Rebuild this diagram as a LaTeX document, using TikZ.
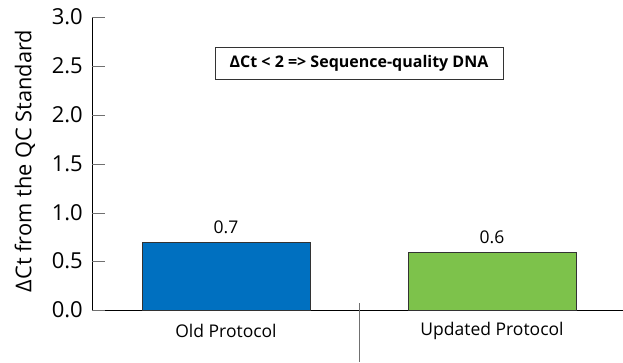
\documentclass[tikz,border=0pt]{standalone}
\usepackage{fontspec}
\setmainfont{Open Sans}
\definecolor{barblue}{HTML}{0070C0}
\definecolor{bargreen}{HTML}{7DC24B}
\definecolor{tickgray}{HTML}{707070}
\begin{document}
\begin{tikzpicture}[x=1pt,y=-1pt,
  ticklab/.style={anchor=east,font=\fontsize{22}{22}\selectfont,inner sep=0pt},
  catlab/.style={font=\fontsize{17.5}{17.5}\selectfont,inner sep=0pt},
  vallab/.style={font=\fontsize{17.5}{17.5}\selectfont,inner sep=0pt},
  bar/.style={draw=black!80,line width=0.8pt},
  tickline/.style={draw=tickgray,line width=0.9pt}]
\useasboundingbox (0,0) rectangle (623,362);
% axes
\coordinate (ytop) at (92,17);
\coordinate (orig) at (92,310);
\coordinate (xend) at (623,310);
\draw[line width=0.9pt] (ytop) -- (orig) -- (xend);
% ticks and labels
\foreach \v/\y [count=\i] in {3.0/17,2.5/66,2.0/115,1.5/164,1.0/213,0.5/261,0.0/310}{
  \coordinate (t\i a) at (92,\y);
  \coordinate (t\i b) at (105,\y);
  \draw[tickline] (t\i a) -- (t\i b);
  \node[ticklab] (tl\i) at (83,\y) {\v};
}
% separator
\coordinate (sepa) at (359,303);
\coordinate (sepb) at (359,362);
\draw[tickline] (sepa) -- (sepb);
% bars
\draw[bar,fill=barblue] (142,310) rectangle (310,242);
\draw[bar,fill=bargreen] (408,310) rectangle (576,252);
\node[vallab] (v1) at (226,227) {0.7};
\node[vallab] (v2) at (492,237) {0.6};
\node[catlab] (c1) at (226,331) {Old Protocol};
\node[catlab] (c2) at (492,331) {Updated Protocol};
% axis title
\node[rotate=90,font=\fontsize{21.8}{21.8}\selectfont,inner sep=0pt] (ytitle) at (25,161) {ΔCt from the QC Standard};
% legend box
\node[draw=black!80,line width=0.8pt,minimum width=288pt,minimum height=32pt,inner sep=0pt,font=\bfseries\fontsize{16}{16}\selectfont] (leg) at (359,63) {ΔCt < 2 => Sequence-quality DNA};
\end{tikzpicture}
\end{document}
